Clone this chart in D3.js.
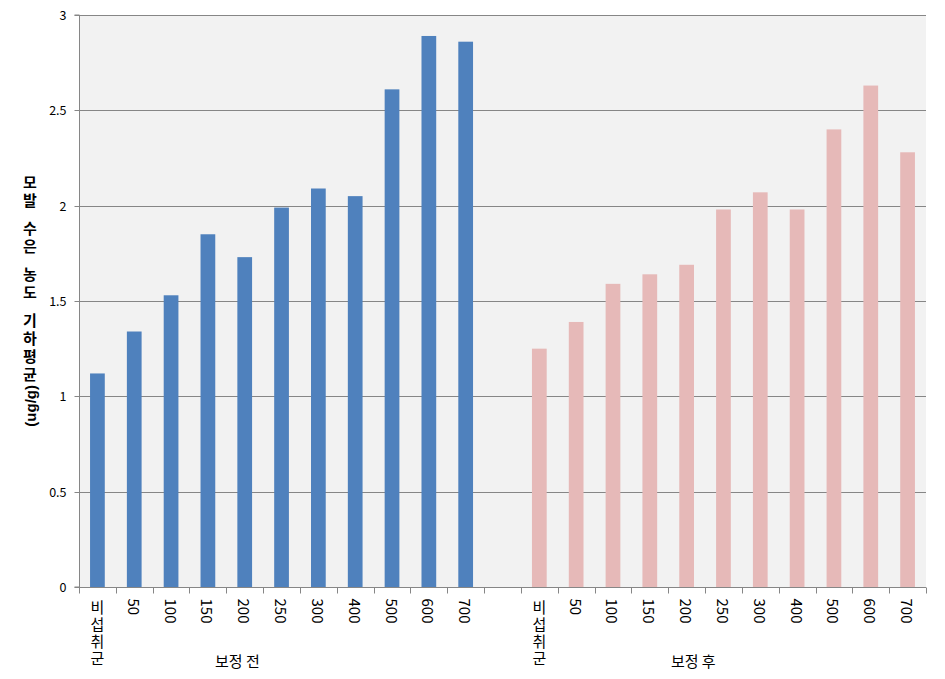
<!DOCTYPE html>
<html><head><meta charset="utf-8">
<script src="https://cdn.jsdelivr.net/npm/d3@7"></script>
<style>
html,body{margin:0;padding:0;background:#fff;}
svg{display:block;}
</style>
</head><body>
<svg id="chart" width="945" height="679"></svg>
<script>
const categories = ["비섭취군","50","100","150","200","250","300","400","500","600","700"];
const groups = ["보정 전","보정 후"];
const before = [1.12,1.34,1.53,1.85,1.73,1.99,2.09,2.05,2.61,2.89,2.86];
const after  = [1.25,1.39,1.59,1.64,1.69,1.98,2.07,1.98,2.40,2.63,2.28];
const yTicks = [0,0.5,1,1.5,2,2.5,3];
const yTitleMain = "모발 수은 농도 기하평균";
const yTitleUnit = "(ug/g)";
const colors = ["#4F81BD","#E6B9B8"];

const W = 945, H = 679;
const m = {left:79, right:19, top:15, bottom:92};
const svg = d3.select("#chart");

// slot keys: group 0 categories, gap, group 1 categories
const slots = [];
categories.forEach((c,i)=>slots.push({key:"g0_"+i, cat:c, g:0, v:before[i]}));
slots.push({key:"gap", cat:null});
categories.forEach((c,i)=>slots.push({key:"g1_"+i, cat:c, g:1, v:after[i]}));

const x = d3.scaleBand().domain(slots.map(s=>s.key)).range([m.left, W-m.right]).paddingInner(0).paddingOuter(0);
const y = d3.scaleLinear().domain([0,3]).range([H-m.bottom, m.top]);
const bw = x.bandwidth();

// plot background
svg.append("rect").attr("x",m.left).attr("y",m.top)
  .attr("width",W-m.right-m.left).attr("height",H-m.bottom-m.top).attr("fill","#F2F2F2");

// gridlines
svg.append("g").selectAll("line").data(yTicks.filter(t=>t>0)).join("line")
  .attr("x1",m.left).attr("x2",W-m.right)
  .attr("y1",d=>Math.round(y(d))+0.5).attr("y2",d=>Math.round(y(d))+0.5)
  .attr("stroke","#868686").attr("stroke-width",1);

// bars
const barW = bw*0.4;
svg.append("g").selectAll("rect").data(slots.filter(s=>s.cat!==null)).join("rect")
  .attr("x",d=>x(d.key)+(bw-barW)/2)
  .attr("width",barW)
  .attr("y",d=>y(d.v))
  .attr("height",d=>y(0)-y(d.v))
  .attr("fill",d=>colors[d.g]);

// y axis
const yAxis = d3.axisLeft(y).tickValues(yTicks).tickSize(5).tickPadding(8).tickFormat(d3.format("~g"));
const ya = svg.append("g").attr("transform",`translate(${m.left+0.5},0)`).call(yAxis);
ya.select(".domain").attr("stroke","#868686").attr("d",`M-5,${y(0)}H0V${y(3)}H-5`);
ya.selectAll(".tick line").attr("stroke","#868686");
ya.selectAll(".tick").attr("transform",d=>`translate(0,${Math.round(y(d))+0.5})`);
ya.selectAll("text").attr("font-family","'Noto Sans CJK KR','Liberation Sans',sans-serif")
  .attr("font-size",12.5).attr("fill","#000");

// x axis line and ticks at slot boundaries
const bottomY = Math.round(y(0))+0.5;
svg.append("line").attr("x1",m.left).attr("x2",W-m.right).attr("y1",bottomY).attr("y2",bottomY)
  .attr("stroke","#868686");
const bounds = slots.map(s=>x(s.key)).concat([x(slots[slots.length-1].key)+bw]);
svg.append("g").selectAll("line").data(bounds).join("line")
  .attr("x1",d=>Math.round(d)+0.5).attr("x2",d=>Math.round(d)+0.5)
  .attr("y1",bottomY).attr("y2",bottomY+6).attr("stroke","#868686");

// category labels
const fontKR = "'Noto Sans CJK KR',sans-serif";
const labY = bottomY + 11;
slots.filter(s=>s.cat!==null).forEach(s=>{
  const cx = x(s.key)+bw/2;
  if (/^\d+$/.test(s.cat)) {
    svg.append("text").attr("transform",`translate(${cx},${labY}) rotate(90)`)
      .attr("text-anchor","start").attr("dominant-baseline","central")
      .attr("font-family",fontKR).attr("font-size",15).attr("fill","#000").text(s.cat);
  } else {
    svg.append("text").attr("x",cx).attr("y",labY+1)
      .attr("text-anchor","start")
      .style("writing-mode","vertical-rl").style("text-orientation","upright")
      .style("letter-spacing","2px")
      .attr("font-family",fontKR).attr("font-size",15).attr("fill","#000").text(s.cat);
  }
});

// group labels
const groupPos = [x("g0_4")+bw*0.3, x("g1_4")+bw*0.68];
groups.forEach((g,i)=>{
  svg.append("text").attr("x",groupPos[i]).attr("y",bottomY+73)
    .attr("text-anchor","middle").attr("dominant-baseline","central")
    .attr("font-family",fontKR).attr("font-size",15).attr("fill","#000").text(g);
});

// y-axis title: vertical upright hangul + rotated unit
const tX = 30, tTop = 175;
const title = svg.append("text").attr("x",tX).attr("y",tTop)
  .attr("text-anchor","start")
  .style("writing-mode","vertical-rl").style("text-orientation","upright")
  .style("letter-spacing","3px").style("word-spacing","-8px")
  .attr("font-family",fontKR).attr("font-weight","bold").attr("font-size",15).attr("fill","#000")
  .text(yTitleMain);
let tEnd = tTop + 204;
try { const bb = title.node().getBBox(); tEnd = bb.y + bb.height; } catch(e) {}
svg.append("text").attr("transform",`translate(${tX},${tEnd}) rotate(-90)`)
  .attr("text-anchor","end").attr("dominant-baseline","central")
  .attr("font-family","'Liberation Sans',sans-serif").attr("font-weight","bold").attr("font-size",15)
  .attr("fill","#000").text(yTitleUnit);
</script>
</body></html>
